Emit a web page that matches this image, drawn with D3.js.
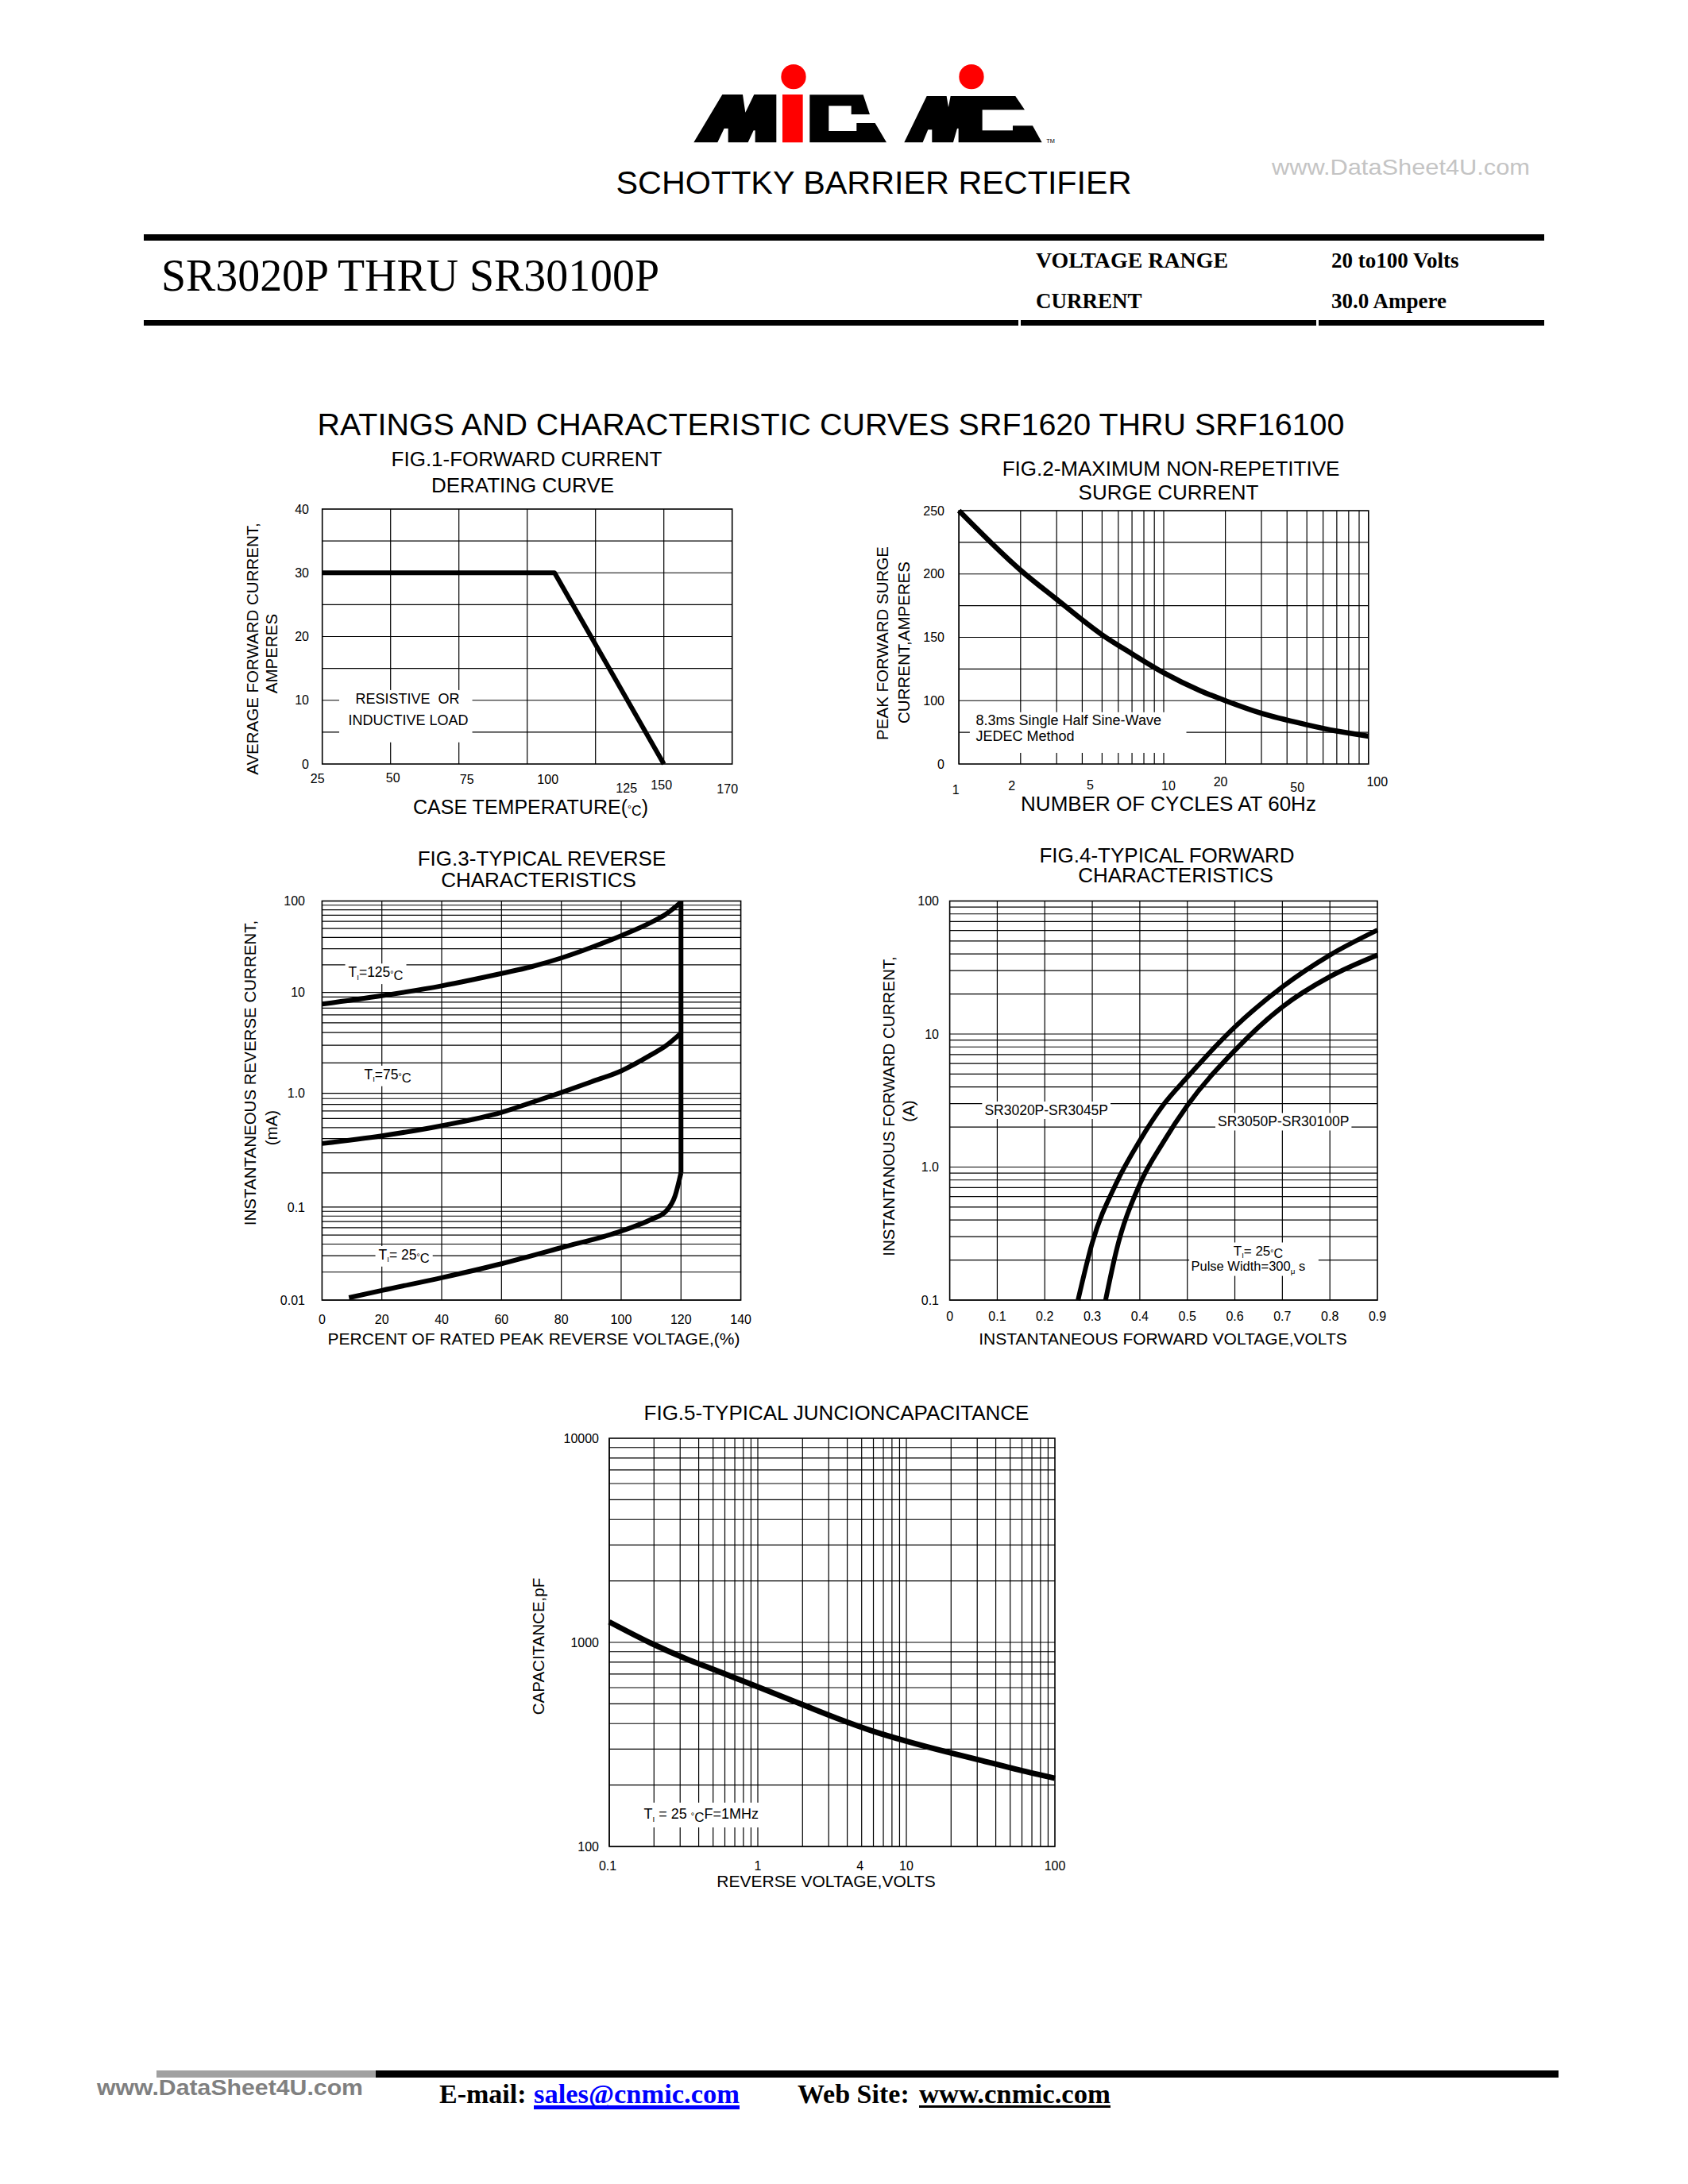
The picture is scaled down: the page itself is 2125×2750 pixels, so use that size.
<!DOCTYPE html>
<html>
<head>
<meta charset="utf-8">
<title>SR3020P THRU SR30100P</title>
<script src="https://cdn.jsdelivr.net/npm/d3@7"></script>
<style>
  body { margin: 0; background: #fff; }
  svg { display: block; }
  text { white-space: pre; }
</style>
</head>
<body>
<svg id="sheet"></svg>
<script>
// ---- values ----

// FIG.1 forward current derating
const deratingTemp = [25, 110, 150];
const deratingAmps = [30, 30, 0];
const fig1XTicks = [25, 50, 75, 100, 125, 150, 175];
const fig1XLabels = ["25", "50", "75", "100", "125", "150", "170"];
const fig1YTicks = [0, 10, 20, 30, 40];

// FIG.2 surge current
const surgeCycles = [1, 2, 3, 5, 7, 10, 15, 20, 30, 50, 70, 100];
const surgeAmps = [250, 203, 180, 152, 137, 122, 108, 100, 90, 81, 76, 72];
const fig2XTicks = [1, 2, 5, 10, 20, 50, 100];
const fig2YTicks = [50, 100, 150, 200, 250];
const fig2YLabels = ["0", "100", "150", "200", "250"];

// FIG.3 reverse characteristics (mA vs % of rated voltage)
const rev125Pct = [0, 20, 40, 60, 70, 80, 90, 100, 110, 115, 120];
const rev125mA = [7.66, 9.27, 11.8, 16.1, 19.1, 23.8, 31, 41.7, 58.4, 72, 97];
const rev75Pct = [0, 20, 40, 60, 70, 80, 90, 100, 110, 115, 120];
const rev75mA = [0.362, 0.423, 0.519, 0.68, 0.83, 1.02, 1.3, 1.67, 2.41, 2.97, 3.95];
const rev25Pct = [9, 20, 40, 60, 80, 100, 110, 115, 118, 120];
const rev25mA = [0.0106, 0.0127, 0.0174, 0.0246, 0.0366, 0.0552, 0.0736, 0.0906, 0.125, 0.2];
const revEdgePct = [120, 120];
const revEdgemA = [100, 0.2];
const fig3XTicks = [0, 20, 40, 60, 80, 100, 120, 140];
const fig3YTicks = [0.01, 0.1, 1, 10, 100];
const fig3YLabels = ["0.01", "0.1", "1.0", "10", "100"];

// FIG.4 forward characteristics
const fwdLowVolts = [0.27, 0.3, 0.35, 0.4, 0.45, 0.5, 0.6, 0.7, 0.8, 0.9];
const fwdLowAmps = [0.1, 0.27, 0.75, 1.58, 2.95, 4.74, 11.3, 22.6, 39.2, 60.4];
const fwdHighVolts = [0.328, 0.35, 0.4, 0.45, 0.5, 0.6, 0.7, 0.8, 0.9];
const fwdHighAmps = [0.1, 0.23, 0.745, 1.55, 2.9, 7.53, 16, 27, 39.2];
const fig4XTicks = [0, 0.1, 0.2, 0.3, 0.4, 0.5, 0.6, 0.7, 0.8, 0.9];
const fig4XLabels = ["0", "0.1", "0.2", "0.3", "0.4", "0.5", "0.6", "0.7", "0.8", "0.9"];
const fig4YTicks = [0.1, 1, 10, 100];
const fig4YLabels = ["0.1", "1.0", "10", "100"];

// FIG.5 junction capacitance
const capVolts = [0.1, 0.192, 0.33, 0.495, 1, 1.93, 3.4, 5.97, 10, 19.6, 32.6, 57.4, 100];
const capPF = [1260, 989, 830, 740, 606, 500, 425, 367, 328, 288, 263, 237, 216];
const fig5XTicks = [0.1, 1, 4, 10, 100];
const fig5XLabels = ["0.1", "1", "4", "10", "100"];
const fig5YTicks = [100, 1000, 10000];
const fig5YLabels = ["100", "1000", "10000"];

// ---- page ----
const W = 2125, H = 2750;
const sans = "'Liberation Sans', Arial, Helvetica, sans-serif";
const serif = "'Liberation Serif', 'Times New Roman', serif";

const svg = d3.select("#sheet").attr("width", W).attr("height", H);
svg.append("rect").attr("width", W).attr("height", H).attr("fill", "#fff");

function txt(parent, x, y, s, size, opts) {
  opts = opts || {};
  const t = parent.append("text")
    .attr("x", x).attr("y", y)
    .attr("font-family", opts.family || sans)
    .attr("font-size", size)
    .attr("font-weight", opts.weight || "normal")
    .attr("text-anchor", opts.anchor || "start")
    .attr("fill", opts.fill || "#000")
    .text(s);
  if (opts.len) t.attr("textLength", opts.len).attr("lengthAdjust", "spacingAndGlyphs");
  return t;
}

// parts: [text, baseline offset in em, size factor]
function richText(parent, x, y, parts, size, anchor) {
  const t = parent.append("text").attr("x", x).attr("y", y)
    .attr("font-family", sans).attr("font-size", size)
    .attr("text-anchor", anchor || "start");
  let shift = 0;
  parts.forEach(p => {
    const off = (p[1] || 0) * size;
    t.append("tspan").attr("dy", off - shift).attr("font-size", size * (p[2] || 1)).text(p[0]);
    shift = off;
  });
  return t;
}

// white patch behind a label so grid lines stop at it
function knockout(g, t, pad) {
  const b = t.node().getBBox();
  g.insert("rect", () => t.node())
    .attr("x", b.x - pad).attr("y", b.y - 1)
    .attr("width", b.width + 2 * pad).attr("height", b.height + 2)
    .attr("fill", "#fff");
}

function yTitle(x, cy, s, size) {
  svg.append("text")
    .attr("transform", `translate(${x},${cy}) rotate(-90)`)
    .attr("text-anchor", "middle")
    .attr("font-family", sans).attr("font-size", size)
    .text(s);
}

function logGrid(lo, hi) {
  const vals = [];
  for (let p = Math.round(Math.log10(lo)); p < Math.round(Math.log10(hi)); p++)
    for (let k = 1; k < 10; k++) vals.push(k * Math.pow(10, p));
  return vals;
}

function drawPanel(cfg) {
  const g = svg.append("g");
  const xr = cfg.x.range(), yr = cfg.y.range();
  const left = xr[0], right = xr[xr.length - 1];
  const bottom = yr[0], top = yr[yr.length - 1];

  g.append("g").selectAll("line").data(cfg.xGrid).join("line")
    .attr("x1", d => cfg.x(d)).attr("x2", d => cfg.x(d))
    .attr("y1", top).attr("y2", bottom)
    .attr("stroke", "#000").attr("stroke-width", 1.2);
  g.append("g").selectAll("line").data(cfg.yGrid).join("line")
    .attr("x1", left).attr("x2", right)
    .attr("y1", d => cfg.y(d)).attr("y2", d => cfg.y(d))
    .attr("stroke", "#000").attr("stroke-width", 1.2);

  (cfg.masks || []).forEach(m => {
    g.append("rect")
      .attr("x", cfg.x(m[0])).attr("y", cfg.y(m[3]))
      .attr("width", cfg.x(m[1]) - cfg.x(m[0]))
      .attr("height", cfg.y(m[2]) - cfg.y(m[3]))
      .attr("fill", "#fff");
  });

  g.append("rect")
    .attr("x", left).attr("y", top)
    .attr("width", right - left).attr("height", bottom - top)
    .attr("fill", "none").attr("stroke", "#000").attr("stroke-width", 1.6);

  g.append("g").selectAll("text").data(cfg.xTicks).join("text")
    .attr("x", (d, i) => cfg.x(d) + (cfg.xDx ? cfg.xDx[i] : 0))
    .attr("y", (d, i) => bottom + (cfg.xDy ? cfg.xDy[i] : cfg.xGap))
    .attr("text-anchor", "middle")
    .attr("font-family", sans).attr("font-size", 16)
    .text((d, i) => cfg.xLabels[i]);

  g.append("g").selectAll("text").data(cfg.yTicks).join("text")
    .attr("x", cfg.yRight)
    .attr("y", d => cfg.y(d))
    .attr("dy", "0.35em")
    .attr("text-anchor", "end")
    .attr("font-family", sans).attr("font-size", 16)
    .text((d, i) => cfg.yLabels[i]);

  return g;
}

function curve(g, x, y, xs, ys, width, shape) {
  const pts = xs.map((v, i) => [v, ys[i]]);
  g.append("path")
    .attr("d", d3.line().x(d => x(d[0])).y(d => y(d[1])).curve(shape || d3.curveMonotoneX)(pts))
    .attr("fill", "none").attr("stroke", "#000")
    .attr("stroke-width", width).attr("stroke-linejoin", "round");
}

// ---- header ----
const logo = svg.append("g").attr("transform", "translate(860,70) scale(0.3333)");
const black = [
  [[40,328],[148,147],[225,147],[235,215],[268,147],[352,147],[352,328],[272,328],[272,283],[266,283],[245,328],[170,328],[170,275],[155,275],[130,328]],
  [[478,148],[680,148],[705,222],[635,222],[635,190],[550,190],[550,285],[655,285],[655,255],[725,255],[768,328],[478,328]],
  [[835,328],[920,153],[995,153],[1002,195],[1010,153],[1255,153],[1290,205],[1130,205],[1130,283],[1245,283],[1245,265],[1320,265],[1355,328],[1040,328],[1040,275],[1035,275],[1020,328],[940,328],[940,280],[925,280],[905,328]]
];
logo.selectAll("polygon").data(black).join("polygon")
  .attr("points", d => d.map(p => p.join(",")).join(" "))
  .attr("fill", "#000");
logo.append("rect").attr("x", 375).attr("y", 147).attr("width", 77).attr("height", 181).attr("fill", "#f00");
logo.append("circle").attr("cx", 417).attr("cy", 80).attr("r", 47).attr("fill", "#f00");
logo.append("circle").attr("cx", 1089).attr("cy", 80).attr("r", 47).attr("fill", "#f00");
logo.append("text").attr("x", 1372).attr("y", 330).attr("font-size", 22).attr("font-family", sans).text("TM");

txt(svg, 1100, 244, "SCHOTTKY BARRIER RECTIFIER", 41, { anchor: "middle", len: 649 });
txt(svg, 1601, 220, "www.DataSheet4U.com", 28, { fill: "#c4c4c4", len: 325 });

svg.append("rect").attr("x", 181).attr("y", 295).attr("width", 1763).attr("height", 8).attr("fill", "#000");
[[181, 1282], [1285, 1657], [1660, 1944]].forEach(s => {
  svg.append("rect").attr("x", s[0]).attr("y", 403).attr("width", s[1] - s[0]).attr("height", 7).attr("fill", "#000");
});

txt(svg, 203, 366, "SR3020P THRU SR30100P", 56, { family: serif, len: 627 });
txt(svg, 1304, 337, "VOLTAGE RANGE", 27, { family: serif, weight: "bold", len: 242 });
txt(svg, 1676, 337, "20 to100 Volts", 27, { family: serif, weight: "bold" });
txt(svg, 1304, 388, "CURRENT", 27, { family: serif, weight: "bold" });
txt(svg, 1676, 388, "30.0 Ampere", 27, { family: serif, weight: "bold" });

txt(svg, 1046, 548, "RATINGS AND CHARACTERISTIC CURVES SRF1620 THRU SRF16100", 39, { anchor: "middle", len: 1293 });

// ---- FIG.1 ----
txt(svg, 663, 587, "FIG.1-FORWARD CURRENT", 26, { anchor: "middle" });
txt(svg, 658, 620, "DERATING CURVE", 26, { anchor: "middle" });
yTitle(325, 817, "AVERAGE FORWARD CURRENT,", 20.5);
yTitle(349, 823, "AMPERES", 20.5);
richText(svg, 668, 1025, [["CASE TEMPERATURE("], ["°", -0.1, 0.5], ["C", 0.08, 0.7], [")"]], 25, "middle");

const x1 = d3.scaleLinear([25, 175], [405.7, 921.7]);
const y1 = d3.scaleLinear([0, 40], [962, 641]);
const g1 = drawPanel({
  x: x1, y: y1,
  xGrid: [50, 75, 100, 125, 150], yGrid: [5, 10, 15, 20, 25, 30, 35],
  masks: [[31.2, 79.9, 3.4, 11.6]],
  xTicks: fig1XTicks, xLabels: fig1XLabels,
  xDx: [-6, 3, 10, 26, 39, -3, -6], xDy: [24, 23, 25, 25, 36, 32, 37],
  yTicks: fig1YTicks, yLabels: fig1YTicks.map(String), yRight: 389
});
txt(g1, x1(56.2), y1(9.47), "RESISTIVE  OR", 18, { anchor: "middle" });
txt(g1, x1(56.5), y1(6.1), "INDUCTIVE LOAD", 18, { anchor: "middle" });
curve(g1, x1, y1, deratingTemp, deratingAmps, 6, d3.curveLinear);

// ---- FIG.2 ----
txt(svg, 1474, 599, "FIG.2-MAXIMUM NON-REPETITIVE", 26, { anchor: "middle" });
txt(svg, 1471, 629, "SURGE CURRENT", 26, { anchor: "middle" });
yTitle(1118, 810, "PEAK FORWARD SURGE", 20.5);
yTitle(1145, 809, "CURRENT,AMPERES", 20.5);
txt(svg, 1471, 1021, "NUMBER OF CYCLES AT 60Hz", 26, { anchor: "middle" });

const x2 = d3.scaleLog([1, 100], [1207.2, 1722.8]);
const y2 = d3.scaleLinear([50, 250], [962, 643]);
const g2 = drawPanel({
  x: x2, y: y2,
  xGrid: logGrid(1, 100), yGrid: d3.range(75, 250, 25),
  masks: [[1.13, 12.9, 58.8, 90.9]],
  xTicks: fig2XTicks, xLabels: fig2XTicks.map(String),
  xDx: [-4, -11, -15, 6, -6, -12, 11], xDy: [38, 33, 32, 33, 28, 35, 28],
  yTicks: fig2YTicks, yLabels: fig2YLabels, yRight: 1189
});
txt(g2, x2(1.21), y2(80.5), "8.3ms Single Half Sine-Wave", 18);
txt(g2, x2(1.21), y2(68.2), "JEDEC Method", 18);
curve(g2, x2, y2, surgeCycles, surgeAmps, 6.5);

// ---- FIG.3 ----
txt(svg, 682, 1090, "FIG.3-TYPICAL REVERSE", 26, { anchor: "middle" });
txt(svg, 678, 1117, "CHARACTERISTICS", 26, { anchor: "middle" });
yTitle(322, 1351, "INSTANTANEOUS REVERSE CURRENT,", 20.5);
yTitle(349, 1420, "(mA)", 20.5);
txt(svg, 672, 1693, "PERCENT OF RATED PEAK REVERSE VOLTAGE,(%)", 21, { anchor: "middle" });

const x3 = d3.scaleLinear([0, 140], [405.4, 932.6]);
const y3 = d3.scaleLog().domain([0.01, 0.1, 1, 10, 100]).range([1637, 1519.9, 1376.7, 1249.6, 1134.5]);
const g3 = drawPanel({
  x: x3, y: y3,
  xGrid: d3.range(20, 140, 20), yGrid: logGrid(0.01, 100),
  xTicks: fig3XTicks, xLabels: fig3XTicks.map(String), xGap: 30,
  yTicks: fig3YTicks, yLabels: fig3YLabels, yRight: 384
});
const tempParts = v => [["T"], ["I", 0.2, 0.55], [v], ["°", 0, 0.6], ["C", 0.22, 0.95]];
[[8.8, 16.6, "=125"], [14.1, 1.54, "=75"], [18.9, 0.0307, "= 25"]].forEach(l => {
  const t = richText(g3, x3(l[0]), y3(l[1]) + 6, tempParts(l[2]), 17.5);
  knockout(g3, t, 4);
});
curve(g3, x3, y3, rev125Pct, rev125mA, 6);
curve(g3, x3, y3, rev75Pct, rev75mA, 6);
curve(g3, x3, y3, rev25Pct, rev25mA, 6);
curve(g3, x3, y3, revEdgePct, revEdgemA, 6, d3.curveLinear);

// ---- FIG.4 ----
txt(svg, 1469, 1086, "FIG.4-TYPICAL FORWARD", 26, { anchor: "middle" });
txt(svg, 1480, 1111, "CHARACTERISTICS", 26, { anchor: "middle" });
yTitle(1126, 1393, "INSTANTANOUS FORWARD CURRENT,", 20.5);
yTitle(1151, 1399, "(A)", 20.5);
txt(svg, 1464, 1693, "INSTANTANEOUS FORWARD VOLTAGE,VOLTS", 21, { anchor: "middle" });

const x4 = d3.scaleLinear([0, 0.9], [1195.6, 1734]);
const y4 = d3.scaleLog([0.1, 100], [1637, 1134.5]);
const g4 = drawPanel({
  x: x4, y: y4,
  xGrid: d3.range(1, 9).map(v => v / 10), yGrid: logGrid(0.1, 100),
  masks: [[0.504, 0.776, 0.152, 0.271]],
  xTicks: fig4XTicks, xLabels: fig4XLabels, xGap: 26,
  yTicks: fig4YTicks, yLabels: fig4YLabels, yRight: 1182
});
[[0.0732, 2.67, "SR3020P-SR3045P"], [0.564, 2.19, "SR3050P-SR30100P"]].forEach(l => {
  const t = txt(g4, x4(l[0]), y4(l[1]) + 6, l[2], 17.5);
  knockout(g4, t, 3);
});
richText(g4, x4(0.597), y4(0.236) + 6, tempParts("= 25"), 17);
richText(g4, x4(0.508), y4(0.18) + 6, [["Pulse Width=300"], ["μ", 0.25, 0.6], [" s"]], 16.5);
curve(g4, x4, y4, fwdLowVolts, fwdLowAmps, 6);
curve(g4, x4, y4, fwdHighVolts, fwdHighAmps, 6);

// ---- FIG.5 ----
txt(svg, 1053, 1788, "FIG.5-TYPICAL JUNCIONCAPACITANCE", 26, { anchor: "middle" });
yTitle(685, 2073, "CAPACITANCE,pF", 20.5);
txt(svg, 1040, 2376, "REVERSE VOLTAGE,VOLTS", 21, { anchor: "middle" });

const x5 = d3.scaleLog([0.1, 100], [767, 1328]);
const y5 = d3.scaleLog([100, 10000], [2325, 1811]);
const g5 = drawPanel({
  x: x5, y: y5,
  xGrid: logGrid(0.1, 100), yGrid: logGrid(100, 10000),
  masks: [[0.16, 1.096, 124, 164]],
  xTicks: fig5XTicks, xLabels: fig5XLabels, xGap: 30, xDx: [-2, 0, 16, 0, 0],
  yTicks: fig5YTicks, yLabels: fig5YLabels, yRight: 754
});
richText(g5, x5(0.171), y5(144) + 6, [["T"], ["I", 0.2, 0.55], [" = 25 "], ["°", 0, 0.6], ["C", 0.22, 0.95], ["F=1MHz", 0, 1]], 18);
curve(g5, x5, y5, capVolts, capPF, 7);

// ---- footer ----
svg.append("rect").attr("x", 197).attr("y", 2607).attr("width", 276).attr("height", 9).attr("fill", "#a0a0a0");
svg.append("rect").attr("x", 473).attr("y", 2607).attr("width", 1489).attr("height", 9).attr("fill", "#000");
txt(svg, 122, 2638, "www.DataSheet4U.com", 28, { weight: "bold", fill: "#808080", len: 335 });

txt(svg, 553, 2648, "E-mail: ", 34, { family: serif, weight: "bold" });
txt(svg, 672, 2648, "sales@cnmic.com", 34, { family: serif, weight: "bold", fill: "#0000ff", len: 259 });
svg.append("rect").attr("x", 672).attr("y", 2651).attr("width", 259).attr("height", 5).attr("fill", "#0000ff");
txt(svg, 1004, 2648, "Web Site: ", 34, { family: serif, weight: "bold" });
txt(svg, 1157, 2648, "www.cnmic.com", 34, { family: serif, weight: "bold", len: 241 });
svg.append("rect").attr("x", 1157).attr("y", 2651).attr("width", 241).attr("height", 3).attr("fill", "#000");
</script>
</body>
</html>
